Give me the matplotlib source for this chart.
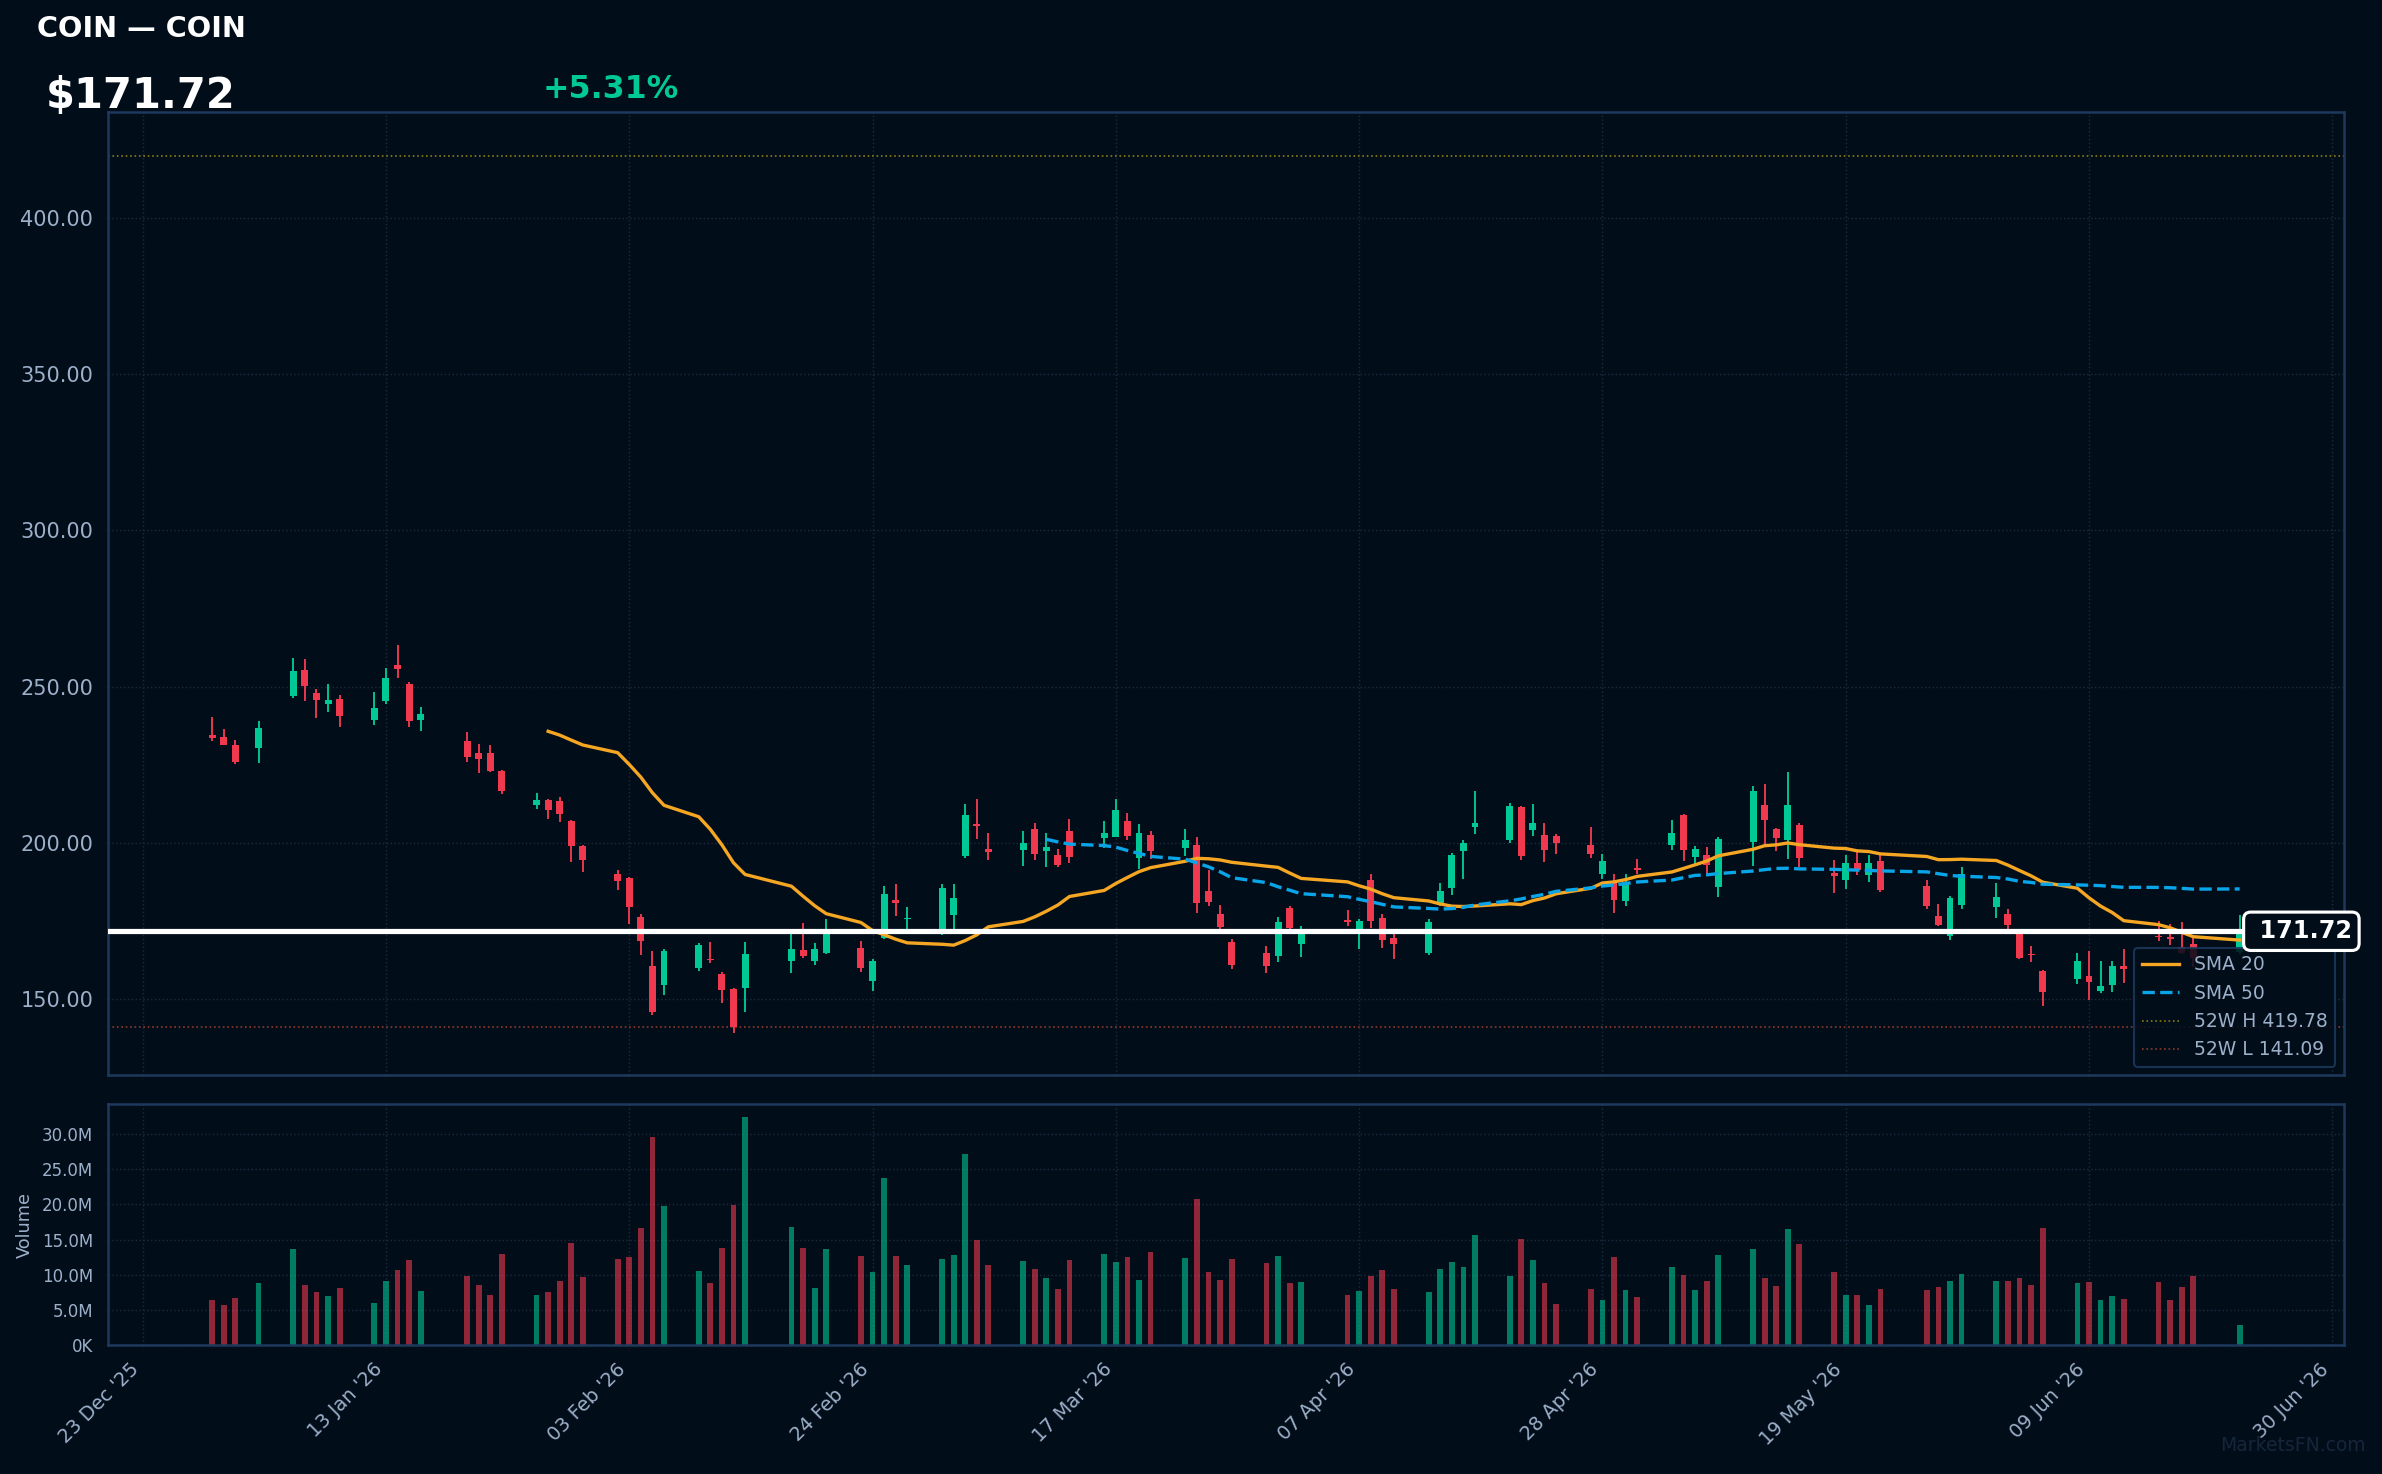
import pandas as pd
import numpy as np
import matplotlib
matplotlib.use('Agg')
import matplotlib.pyplot as plt
import matplotlib.dates as mdates
from matplotlib.ticker import FuncFormatter

# trading days Dec 29 2025 .. Jun 22 2026 (NYSE holidays taken out)
holidays = ['2026-01-01', '2026-01-19', '2026-02-16', '2026-04-03', '2026-05-25', '2026-06-19']
dates = pd.bdate_range('2025-12-29', '2026-06-22', freq='C', holidays=holidays)

opens = [234.4, 233.8, 231.3, 230.4, 247.0, 255.2, 248.1, 244.5, 246.0, 239.4,
         245.4, 256.8, 250.9, 239.4, 232.5, 228.7, 228.7, 222.9, 212.2, 213.7,
         213.3, 206.9, 199.0, 190.0, 188.7, 176.2, 160.6, 154.5, 159.9, 162.8,
         158.0, 153.2, 153.6, 162.3, 165.7, 162.3, 164.8, 166.3, 155.9, 169.6,
         181.7, 175.5, 172.2, 176.9, 195.7, 205.9, 198.1, 197.8, 204.4, 197.5,
         196.0, 203.7, 201.6, 202.0, 206.9, 195.2, 202.5, 198.4, 199.3, 184.5,
         177.2, 168.2, 164.7, 163.9, 179.1, 167.7, 175.3, 171.3, 188.1, 175.9,
         169.5, 164.8, 180.0, 185.6, 197.5, 205.1, 201.0, 211.4, 204.2, 202.5,
         202.1, 199.3, 190.1, 187.5, 181.5, 191.9, 199.4, 208.9, 195.5, 196.0,
         185.9, 200.3, 212.1, 204.4, 200.9, 205.7, 190.3, 188.2, 193.7, 189.8,
         194.1, 186.1, 176.6, 170.3, 180.2, 179.5, 177.2, 171.0, 164.4, 159.0,
         156.5, 157.4, 152.7, 154.6, 160.6, 170.2, 169.8, 166.7, 167.8, 165.0]
highs = [240.2, 236.4, 232.9, 238.9, 259.1, 258.8, 249.2, 250.8, 247.2, 248.2,
         255.9, 263.2, 251.4, 243.4, 235.4, 231.8, 231.3, 223.3, 215.9, 214.0,
         214.6, 207.3, 199.3, 191.3, 189.0, 177.2, 165.5, 166.0, 167.9, 168.2,
         158.6, 153.5, 168.2, 171.0, 174.4, 167.9, 175.8, 168.6, 162.7, 186.1,
         186.7, 179.4, 187.0, 187.0, 212.4, 214.0, 203.1, 203.7, 206.3, 203.3,
         198.2, 207.6, 206.9, 214.0, 209.5, 206.0, 203.7, 204.4, 202.0, 191.3,
         180.1, 169.2, 167.1, 176.2, 179.8, 173.4, 178.5, 175.5, 190.0, 177.4,
         171.0, 175.6, 187.3, 196.9, 200.9, 216.5, 212.7, 211.7, 212.4, 206.3,
         202.8, 205.0, 196.4, 190.2, 190.0, 194.8, 207.3, 209.2, 198.9, 198.6,
         201.8, 218.1, 218.8, 204.7, 222.6, 206.3, 194.6, 196.1, 197.5, 196.1,
         196.0, 188.1, 180.4, 183.1, 192.2, 187.1, 179.0, 172.0, 167.0, 159.3,
         164.7, 165.4, 162.2, 162.2, 166.0, 175.0, 174.2, 174.7, 169.7, 177.0]
lows = [232.6, 231.3, 225.3, 225.6, 246.4, 245.4, 240.0, 241.9, 237.1, 237.8,
        244.5, 252.7, 237.1, 235.8, 225.9, 222.4, 222.7, 215.7, 210.8, 207.7,
        206.7, 193.9, 190.7, 185.0, 174.1, 164.1, 144.9, 151.3, 159.1, 161.5,
        148.7, 139.2, 145.8, 158.4, 163.2, 161.0, 164.3, 158.6, 152.7, 169.3,
        176.7, 171.5, 170.5, 172.1, 195.2, 201.2, 194.6, 192.7, 194.6, 192.3,
        192.3, 193.6, 198.4, 201.8, 201.0, 191.8, 194.7, 195.9, 177.6, 179.9,
        172.1, 159.7, 158.4, 161.9, 172.4, 163.4, 173.4, 166.0, 172.8, 166.4,
        162.9, 164.2, 179.8, 183.3, 188.4, 202.9, 200.0, 194.6, 202.2, 193.9,
        196.5, 195.2, 188.4, 177.6, 179.9, 189.9, 197.8, 194.3, 193.4, 190.0,
        182.7, 192.7, 199.8, 197.5, 194.9, 192.3, 183.9, 185.3, 189.8, 187.5,
        184.3, 178.9, 173.4, 169.0, 178.9, 176.0, 172.1, 162.7, 161.9, 147.9,
        154.9, 149.8, 152.0, 152.3, 155.2, 168.7, 167.3, 164.5, 160.3, 164.5]
closes = [233.6, 231.4, 225.8, 236.7, 254.9, 250.1, 245.6, 245.6, 240.6, 243.1,
          252.6, 255.6, 239.0, 241.2, 227.5, 226.9, 222.9, 216.6, 213.7, 210.6,
          209.3, 199.1, 194.6, 187.9, 179.5, 168.7, 145.8, 165.4, 167.3, 162.5,
          153.0, 141.1, 164.4, 166.0, 163.8, 166.0, 171.8, 160.0, 162.2, 183.8,
          180.8, 175.8, 185.5, 182.3, 208.9, 205.3, 197.1, 199.9, 196.4, 198.6,
          192.9, 195.5, 203.3, 210.5, 202.2, 203.1, 197.5, 201.0, 180.8, 181.1,
          173.1, 161.0, 160.7, 174.6, 172.8, 170.7, 174.7, 175.1, 175.0, 168.9,
          167.7, 174.6, 184.5, 196.1, 199.9, 206.3, 211.7, 195.9, 206.3, 197.8,
          200.0, 196.5, 194.1, 181.8, 187.5, 191.2, 203.1, 197.8, 198.0, 192.9,
          201.2, 216.5, 207.4, 201.6, 212.1, 195.2, 189.5, 193.5, 191.2, 193.5,
          185.0, 179.9, 173.7, 182.4, 190.0, 182.7, 173.7, 163.2, 164.1, 152.3,
          162.2, 155.5, 154.2, 160.6, 159.8, 169.9, 169.3, 164.8, 163.06, 171.72]
# volume in millions
volumes = [6.34, 5.63, 6.63, 8.76, 13.72, 8.61, 7.48, 6.91, 8.05, 5.92,
           9.04, 10.74, 12.16, 7.62, 9.75, 8.47, 7.05, 13.01, 7.05, 7.48,
           9.04, 14.58, 9.61, 12.30, 12.59, 16.71, 29.63, 19.83, 10.60, 8.76,
           13.87, 19.97, 32.47, 16.85, 13.87, 8.05, 13.72, 12.73, 10.46, 23.80,
           12.73, 11.45, 12.30, 12.87, 27.21, 15.00, 11.45, 12.02, 10.88, 9.47,
           7.90, 12.16, 13.01, 11.88, 12.59, 9.32, 13.30, 12.45, 20.82, 10.46,
           9.32, 12.30, 11.74, 12.73, 8.76, 8.90, 7.05, 7.62, 9.75, 10.74,
           7.90, 7.48, 10.88, 11.88, 11.17, 15.71, 9.89, 15.14, 12.16, 8.76,
           5.77, 7.90, 6.34, 12.59, 7.76, 6.77, 11.17, 10.03, 7.76, 9.18,
           12.87, 13.72, 9.47, 8.33, 16.56, 14.43, 10.46, 7.05, 7.05, 5.63,
           7.90, 7.76, 8.19, 9.04, 10.17, 9.04, 9.18, 9.47, 8.47, 16.71,
           8.76, 8.90, 6.34, 6.91, 6.48, 8.90, 6.34, 8.19, 9.75, 2.79]

ticker = 'COIN'
last_price = 171.72
change_pct = 5.31
high_52w = 419.78
low_52w = 141.09

# colours
BG = '#020d1a'
UP = '#00c896'
DOWN = '#f0394f'
SPINE = '#1d3a5c'
TXT = '#9db0c9'
GRID = '#1a2a3c'

df = pd.DataFrame({'Open': opens, 'High': highs, 'Low': lows, 'Close': closes,
                   'Volume': np.array(volumes) * 1e6}, index=dates)
df['SMA20'] = df['Close'].rolling(20).mean()
df['SMA50'] = df['Close'].rolling(50).mean()
up = df['Close'] >= df['Open']
colors = np.where(up, UP, DOWN)

fig = plt.figure(figsize=(2382 / 150, 1474 / 150), dpi=150, facecolor=BG)
ax = fig.add_axes([0.0453, 0.2704, 0.9387, 0.6533], facecolor=BG)
axv = fig.add_axes([0.0453, 0.0875, 0.9387, 0.1635], facecolor=BG, sharex=ax)

# candles: wicks then bodies
ax.vlines(df.index, df['Low'], df['High'], colors=colors, linewidth=0.9, zorder=3)
body_low = df[['Open', 'Close']].min(axis=1)
body_h = (df['Close'] - df['Open']).abs().clip(lower=0.35)
ax.bar(df.index, body_h, bottom=body_low, width=0.6, color=colors, linewidth=0, zorder=4)

# moving averages
ax.plot(df.index, df['SMA20'], color='#f5a623', linewidth=1.6, label='SMA 20', zorder=5)
ax.plot(df.index, df['SMA50'], color='#0aa5e8', linewidth=1.6, linestyle='--', label='SMA 50', zorder=5)

# 52 week lines and last price line
ax.axhline(high_52w, color='#8a7d12', linewidth=0.8, linestyle=':', label=f'52W H {high_52w:.2f}')
ax.axhline(low_52w, color='#8f3a2c', linewidth=0.8, linestyle=':', label=f'52W L {low_52w:.2f}')
ax.axhline(last_price, color='white', linewidth=2.5, zorder=6)

ax.text(1.0036, last_price, ' ' + f'{last_price:.2f}', transform=ax.get_yaxis_transform(),
        ha='right', va='center', color='white', fontsize=11.5, fontweight='bold', zorder=10,
        bbox=dict(boxstyle='round,pad=0.3', facecolor=BG, edgecolor='white', linewidth=1.5),
        clip_on=False)

ax.set_ylim(125.6, 433.7)
ax.set_yticks([150, 200, 250, 300, 350, 400])
ax.yaxis.set_major_formatter(FuncFormatter(lambda v, p: f'{v:.2f}'))

leg = ax.legend(loc='lower right', fontsize=9, facecolor=BG, edgecolor=SPINE,
                framealpha=0.85, labelcolor=TXT, borderaxespad=0.45)
leg.set_zorder(8)

# volume
axv.bar(df.index, df['Volume'], width=0.5, color=colors, alpha=0.6, linewidth=0)
axv.set_ylim(0, df['Volume'].max() * 1.056)
axv.set_yticks(np.arange(0, 31e6, 5e6))
axv.yaxis.set_major_formatter(FuncFormatter(lambda v, p: '0K' if v == 0 else f'{v / 1e6:.1f}M'))
axv.set_ylabel('Volume', color=TXT, fontsize=8.5)

# x axis
tick_dates = pd.date_range('2025-12-23', periods=10, freq='21D')
axv.set_xticks(tick_dates)
axv.xaxis.set_major_formatter(mdates.DateFormatter("%d %b '%y"))
axv.set_xlim(df.index[0] - pd.Timedelta(days=9), df.index[-1] + pd.Timedelta(days=9))
plt.setp(ax.get_xticklabels(), visible=False)
plt.setp(axv.get_xticklabels(), rotation=45, ha='right')

for a in (ax, axv):
    for s in a.spines.values():
        s.set_color(SPINE)
        s.set_linewidth(1.2)
    a.grid(True, color=GRID, linestyle=':', linewidth=0.7)
    a.set_axisbelow(True)
    a.tick_params(colors='#0a0f16', labelcolor=TXT)
ax.tick_params(axis='y', labelsize=10)
axv.tick_params(axis='y', labelsize=8)
axv.tick_params(axis='x', labelsize=9.3)

# header texts
fig.text(36.7 / 2382, 1 - 36.7 / 1474, f'{ticker} \u2014 {ticker}', color='white',
         fontsize=13.8, fontweight='bold', va='baseline')
fig.text(46 / 2382, 1 - 108 / 1474, f'${last_price:.2f}', color='white',
         fontsize=20, fontweight='bold', va='baseline')
fig.text(543 / 2382, 1 - 98 / 1474, f'+{change_pct:.2f}%', color=UP,
         fontsize=15.2, fontweight='bold', va='baseline')
fig.text(0.993, 0.013, 'MarketsFN.com', color='#16263a', fontsize=9, ha='right', va='bottom')

fig.savefig('out.png', dpi=150, facecolor=BG)
